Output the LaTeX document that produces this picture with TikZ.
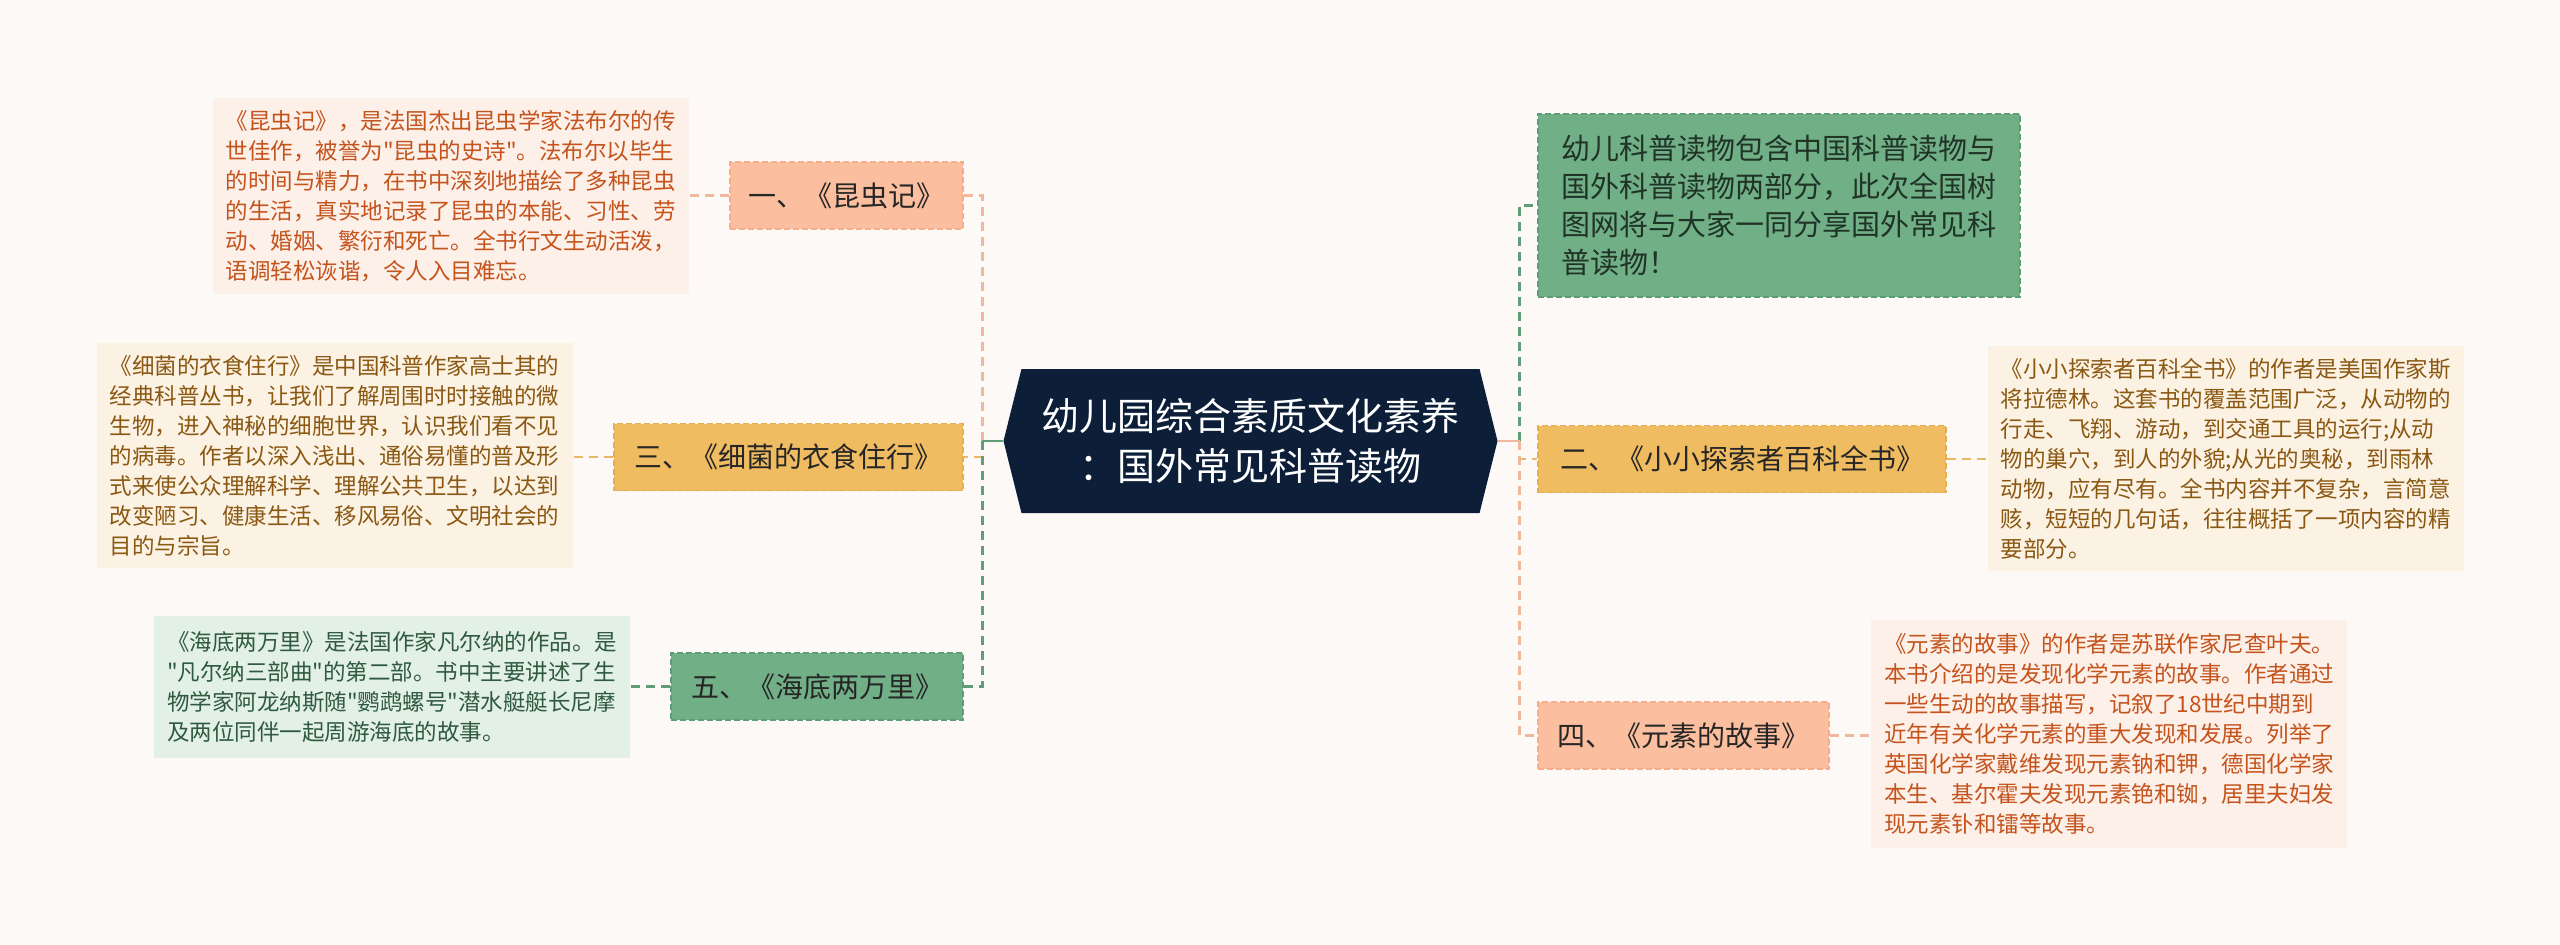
\documentclass[tikz,border=0pt]{standalone}
\usepackage{fontspec}
\setmainfont{Noto Sans CJK SC}[Ligatures=TeXOff]
\usetikzlibrary{shapes.symbols}
\definecolor{pageBg}{HTML}{FDF9F7}
\definecolor{rootNavy}{HTML}{0C1E38}
\definecolor{topicInk}{HTML}{262626}
\definecolor{introInk}{HTML}{1F3326}
\definecolor{salmonFill}{HTML}{FBBE9E}
\definecolor{salmonEdge}{HTML}{F4AE8A}
\definecolor{salmonNote}{HTML}{FDF0E9}
\definecolor{salmonInk}{HTML}{C4531C}
\definecolor{salmonLine}{HTML}{F2B89C}
\definecolor{orangeFill}{HTML}{F0BC62}
\definecolor{orangeEdge}{HTML}{E6AE50}
\definecolor{orangeNote}{HTML}{FCF2E3}
\definecolor{orangeInk}{HTML}{8A5812}
\definecolor{orangeLine}{HTML}{E8B868}
\definecolor{greenFill}{HTML}{71AF87}
\definecolor{greenEdge}{HTML}{5E9E76}
\definecolor{greenNote}{HTML}{E2F0E6}
\definecolor{greenInk}{HTML}{2F5A3E}
\definecolor{greenLine}{HTML}{5F9E79}

\begin{document}
\begin{tikzpicture}[x=1pt,y=-1pt,
  topic/.style={draw=#1Edge,fill=#1Fill,line width=1.4pt,dash pattern=on 6pt off 3pt,
    text=topicInk,font=\fontsize{28}{34}\selectfont,minimum height=67pt,inner sep=0pt},
  note/.style={fill=#1Note,text=#1Ink,font=\fontsize{22.5}{30}\selectfont,align=left,
    minimum width=476pt,inner sep=0pt},
  link/.style={draw=#1Line,line width=2.6pt,dash pattern=on 9pt off 6pt}]
\fill[pageBg] (0,0) rectangle (2560,945);

\node[signal,signal to=west and east,signal pointer angle=152,fill=rootNavy,text=white,
  minimum width=494pt,minimum height=144pt,inner sep=0pt,align=center,
  font=\fontsize{38}{50}\selectfont] (root) at (1250.5,441) {幼儿园综合素质文化素养\\：国外常见科普读物};

\node[topic=salmon,minimum width=233pt] (kunchong) at (846.5,195.5) {一、《昆虫记》};
\node[note=salmon,minimum height=196pt] (kunchongNote) at (450.5,196) {%
《昆虫记》，是法国杰出昆虫学家法布尔的传\\
世佳作，被誉为"昆虫的史诗"。法布尔以毕生\\
的时间与精力，在书中深刻地描绘了多种昆虫\\
的生活，真实地记录了昆虫的本能、习性、劳\\
动、婚姻、繁衍和死亡。全书行文生动活泼，\\
语调轻松诙谐，令人入目难忘。};
\node[topic=orange,minimum width=349pt] (xijun) at (788.5,457) {三、《细菌的衣食住行》};
\node[note=orange,minimum height=225pt] (xijunNote) at (334.5,455.5) {%
《细菌的衣食住行》是中国科普作家高士其的\\
经典科普丛书，让我们了解周围时时接触的微\\
生物，进入神秘的细胞世界，认识我们看不见\\
的病毒。作者以深入浅出、通俗易懂的普及形\\
式来使公众理解科学、理解公共卫生，以达到\\
改变陋习、健康生活、移风易俗、文明社会的\\
目的与宗旨。};
\node[topic=green,minimum width=292pt] (haidi) at (817,686.5) {五、《海底两万里》};
\node[note=green,minimum height=142pt] (haidiNote) at (392,687) {%
《海底两万里》是法国作家凡尔纳的作品。是\\
"凡尔纳三部曲"的第二部。书中主要讲述了生\\
物学家阿龙纳斯随"鹦鹉螺号"潜水艇艇长尼摩\\
及两位同伴一起周游海底的故事。};

\node[topic=green,minimum width=482pt,minimum height=183pt,align=left,text=introInk,
  font=\fontsize{29}{38}\selectfont] (intro) at (1779,205.5) {%
幼儿科普读物包含中国科普读物与\\
国外科普读物两部分，此次全国树\\
图网将与大家一同分享国外常见科\\
普读物！};
\node[topic=orange,minimum width=408pt] (tansuo) at (1742,459) {二、《小小探索者百科全书》};
\node[note=orange,minimum height=225pt] (tansuoNote) at (2225.5,458.5) {%
《小小探索者百科全书》的作者是美国作家斯\\
将拉德林。这套书的覆盖范围广泛，从动物的\\
行走、飞翔、游动，到交通工具的运行;从动\\
物的巢穴，到人的外貌;从光的奥秘，到雨林\\
动物，应有尽有。全书内容并不复杂，言简意\\
赅，短短的几句话，往往概括了一项内容的精\\
要部分。};
\node[topic=salmon,minimum width=291pt] (yuansu) at (1683.5,735.5) {四、《元素的故事》};
\node[note=salmon,minimum height=228pt] (yuansuNote) at (2109,734) {%
《元素的故事》的作者是苏联作家尼查叶夫。\\
本书介绍的是发现化学元素的故事。作者通过\\
一些生动的故事描写，记叙了18世纪中期到\\
近年有关化学元素的重大发现和发展。列举了\\
英国化学家戴维发现元素钠和钾，德国化学家\\
本生、基尔霍夫发现元素铯和铷，居里夫妇发\\
现元素钋和镭等故事。};

\coordinate (lJoint) at ([xshift=-21pt]root.west);
\coordinate (rJoint) at ([xshift=22pt]root.east);
\draw[link=salmon] (lJoint) |- (kunchong.east);
\draw[link=orange] (lJoint) |- (xijun.east);
\draw[link=green] (lJoint) |- (haidi.east);
\draw[greenLine,line width=2.6pt] (root.west) -- (lJoint);
\draw[link=green] (rJoint) |- (intro.west);
\draw[link=orange] (rJoint) |- (tansuo.west);
\draw[link=salmon] (rJoint) |- (yuansu.west);
\draw[salmonLine,line width=2.6pt] (root.east) -- (rJoint);

\draw[link=salmon] (kunchong.west) -- (kunchong.west -| kunchongNote.east);
\draw[link=orange] (xijun.west) -- (xijun.west -| xijunNote.east);
\draw[link=green] (haidi.west) -- (haidi.west -| haidiNote.east);
\draw[link=orange] (tansuo.east) -- (tansuo.east -| tansuoNote.west);
\draw[link=salmon] (yuansu.east) -- (yuansu.east -| yuansuNote.west);
\end{tikzpicture}
\end{document}
